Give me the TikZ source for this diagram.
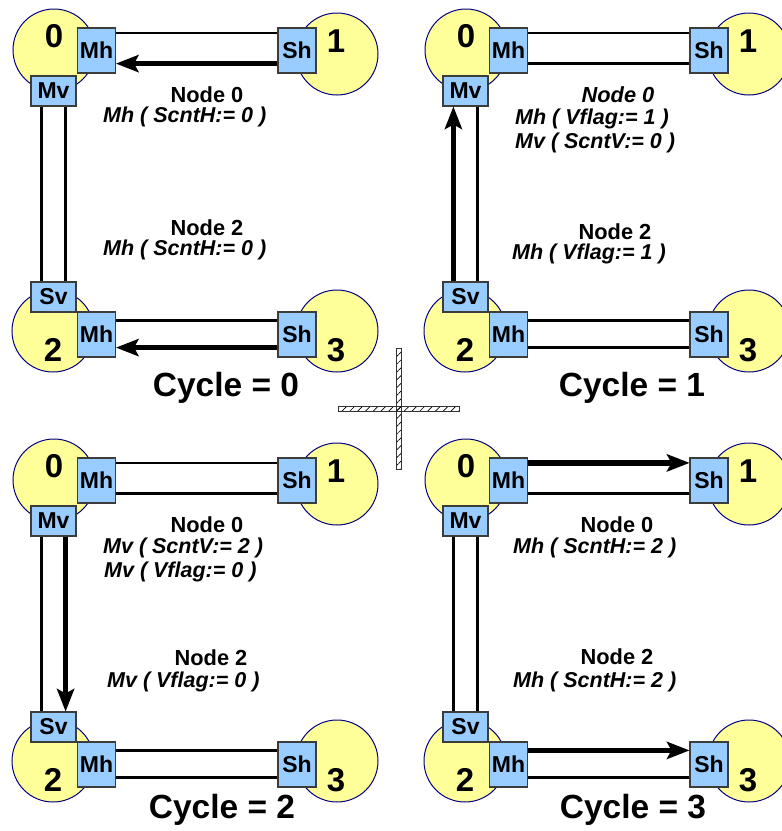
\documentclass[tikz,border=0pt]{standalone}
\usepackage{fontspec}
\setmainfont{Liberation Sans}
\usetikzlibrary{arrows.meta,patterns.meta}
\definecolor{yel}{HTML}{FFFF99}
\definecolor{boxfill}{HTML}{99CCFF}
\definecolor{boxborder}{HTML}{3C3C3C}
\definecolor{navyc}{HTML}{000080}
\tikzset{
  circ/.style={circle, draw=navyc, fill=yel, line width=1pt, minimum size=82pt, inner sep=0pt},
  num/.style={inner sep=0pt, font=\fontsize{33}{36}\selectfont\bfseries},
  box/.style={draw=boxborder, fill=boxfill, line width=1.2pt, inner sep=0pt, font=\fontsize{23}{26}\selectfont\bfseries},
  hbox/.style={box, minimum width=38pt, minimum height=45pt},
  vbox/.style={box, minimum width=45pt, minimum height=30pt},
  thinln/.style={line width=2.4pt},
  thickarr/.style={line width=5.5pt, -{Stealth[length=23pt,width=18pt,inset=5pt,line width=0pt]}},
  nodehd/.style={inner sep=0pt, font=\fontsize{21.8}{25}\selectfont\bfseries},
  nodehdit/.style={inner sep=0pt, font=\fontsize{21.8}{25}\selectfont\bfseries\itshape},
  cmd/.style={inner sep=0pt, anchor=west, font=\fontsize{21.5}{25}\selectfont\bfseries\itshape},
  cyclbl/.style={inner sep=0pt, font=\fontsize{33.5}{38}\selectfont\bfseries},
  hatchbar/.style={draw=black!80, line width=0.7pt, inner sep=0pt, pattern={Lines[angle=45,distance=5.5pt,line width=0.7pt]}}
}
\newcommand\drawquad[3]{%
\begin{scope}[shift={(#2,#3)}]
  \node[circ] (#1c0) at (54,50) {};
  \node[circ] (#1c1) at (337,54) {};
  \node[circ] (#1c2) at (53,331) {};
  \node[circ] (#1c3) at (337,331) {};
  \node[num] (#1n0) at (54,36) {0};
  \node[num] (#1n1) at (336,41) {1};
  \node[num] (#1n2) at (53,350) {2};
  \node[num] (#1n3) at (336,350) {3};
  \node[hbox] (#1mh0) at (96.5,50.5) {Mh};
  \node[hbox] (#1sh1) at (297,50.5) {Sh};
  \node[vbox] (#1mv) at (53.5,91) {Mv};
  \node[vbox] (#1sv) at (53.5,297) {Sv};
  \node[hbox] (#1mh2) at (96.5,334.5) {Mh};
  \node[hbox] (#1sh3) at (297,334.5) {Sh};
\end{scope}}
\begin{document}
\begin{tikzpicture}[x=1pt,y=-1pt]
\useasboundingbox (0,0) rectangle (782,831);
\clip (0,0) rectangle (782,831);

\drawquad{a}{0}{0}
\drawquad{b}{412}{0}
\drawquad{c}{0}{430}
\drawquad{d}{412}{430}

% Quadrant a: Cycle = 0
\draw[thinln] ([yshift=-5.5pt]amh0.north east) -- ([yshift=-5.5pt]ash1.north west);
\draw[thickarr] ([yshift=10pt]ash1.south west) -- ([yshift=10pt]amh0.south east);
\draw[thinln] ([yshift=-9pt]amh2.north east) -- ([yshift=-9pt]ash3.north west);
\draw[thickarr] ([yshift=10pt]ash3.south west) -- ([yshift=10pt]amh2.south east);
\draw[thinln] ([xshift=11pt]amv.south west) -- ([xshift=11pt]asv.north west);
\draw[thinln] ([xshift=-11pt]amv.south east) -- ([xshift=-11pt]asv.north east);

% Quadrant b: Cycle = 1
\draw[thinln] ([yshift=-5.5pt]bmh0.north east) -- ([yshift=-5.5pt]bsh1.north west);
\draw[thinln] ([yshift=10pt]bsh1.south west) -- ([yshift=10pt]bmh0.south east);
\draw[thinln] ([yshift=-9pt]bmh2.north east) -- ([yshift=-9pt]bsh3.north west);
\draw[thinln] ([yshift=10pt]bsh3.south west) -- ([yshift=10pt]bmh2.south east);
\draw[thickarr] ([xshift=11pt]bsv.north west) -- ([xshift=11pt]bmv.south west);
\draw[thinln] ([xshift=-11pt]bmv.south east) -- ([xshift=-11pt]bsv.north east);

% Quadrant c: Cycle = 2
\draw[thinln] ([yshift=-5.5pt]cmh0.north east) -- ([yshift=-5.5pt]csh1.north west);
\draw[thinln] ([yshift=10pt]csh1.south west) -- ([yshift=10pt]cmh0.south east);
\draw[thinln] ([yshift=-9pt]cmh2.north east) -- ([yshift=-9pt]csh3.north west);
\draw[thinln] ([yshift=10pt]csh3.south west) -- ([yshift=10pt]cmh2.south east);
\draw[thinln] ([xshift=11pt]cmv.south west) -- ([xshift=11pt]csv.north west);
\draw[thickarr] ([xshift=-11pt]cmv.south east) -- ([xshift=-11pt]csv.north east);

% Quadrant d: Cycle = 3
\draw[thickarr] ([yshift=-5.5pt]dmh0.north east) -- ([yshift=-5.5pt]dsh1.north west);
\draw[thinln] ([yshift=10pt]dsh1.south west) -- ([yshift=10pt]dmh0.south east);
\draw[thickarr] ([yshift=-9pt]dmh2.north east) -- ([yshift=-9pt]dsh3.north west);
\draw[thinln] ([yshift=10pt]dsh3.south west) -- ([yshift=10pt]dmh2.south east);
\draw[thinln] ([xshift=11pt]dmv.south west) -- ([xshift=11pt]dsv.north west);
\draw[thinln] ([xshift=-11pt]dmv.south east) -- ([xshift=-11pt]dsv.north east);

% Texts
\node[nodehd] (at0) at (207,95) {Node 0};
\node[cmd] (at1) at (103,117) {Mh ( ScntH:= 0 )};
\node[nodehd] (at2) at (207,228) {Node 2};
\node[cmd] (at3) at (103,250) {Mh ( ScntH:= 0 )};
\node[cyclbl] (acyc) at (226,388) {Cycle = 0};

\node[nodehdit] (bt0) at (618,95) {Node 0};
\node[cmd] (bt1) at (515,119) {Mh ( Vflag:= 1 )};
\node[cmd] (bt2) at (515,143) {Mv ( ScntV:= 0 )};
\node[nodehd] (bt3) at (615,232) {Node 2};
\node[cmd] (bt4) at (512,254) {Mh ( Vflag:= 1 )};
\node[cyclbl] (bcyc) at (632,388) {Cycle = 1};

\node[nodehd] (ct0) at (207,525) {Node 0};
\node[cmd] (ct1) at (103,548) {Mv ( ScntV:= 2 )};
\node[cmd] (ct2) at (104,572) {Mv ( Vflag:= 0 )};
\node[nodehd] (ct3) at (211,658) {Node 2};
\node[cmd] (ct4) at (107,682) {Mv ( Vflag:= 0 )};
\node[cyclbl] (ccyc) at (222,810) {Cycle = 2};

\node[nodehd] (dt0) at (617,525) {Node 0};
\node[cmd] (dt1) at (513,548) {Mh ( ScntH:= 2 )};
\node[nodehd] (dt2) at (617,657) {Node 2};
\node[cmd] (dt3) at (513,682) {Mh ( ScntH:= 2 )};
\node[cyclbl] (dcyc) at (633,810) {Cycle = 3};

% Centre cross
\node[hatchbar, minimum width=121pt, minimum height=5pt] (hbar) at (398.5,408.5) {};
\node[hatchbar, minimum width=5pt, minimum height=121pt] (vbar) at (398.5,408.5) {};
\end{tikzpicture}
\end{document}
